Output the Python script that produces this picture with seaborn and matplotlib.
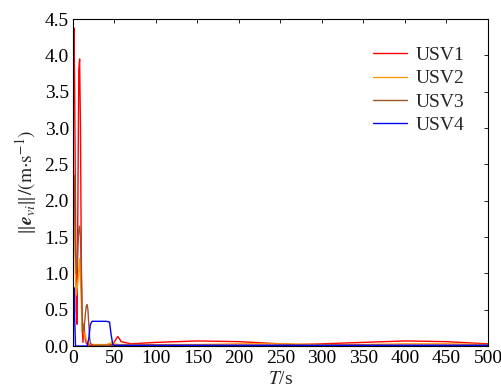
import numpy as np
import pandas as pd
import matplotlib
matplotlib.use("Agg")
import matplotlib.pyplot as plt
import seaborn as sns

# ---- data ----
t_usv1 = [0, 0.5, 1, 2, 3, 4, 5, 6, 7, 8, 9, 10, 11, 12, 13, 14, 15, 16, 18, 20, 30, 40, 48, 51, 54, 56, 58, 62, 70, 100, 150, 200, 250, 270, 300, 350, 400, 450, 500]
e_usv1 = [0.8, 3.6, 4.38, 3.6, 1.8, 0.5, 0.3, 2.2, 3.8, 3.95, 3.0, 1.2, 0.3, 0.05, 0.3, 0.18, 0.08, 0.04, 0.02, 0.01, 0.01, 0.01, 0.02, 0.08, 0.13, 0.1, 0.06, 0.05, 0.03, 0.05, 0.07, 0.06, 0.03, 0.02, 0.03, 0.05, 0.07, 0.06, 0.03]

t_usv2 = [0, 0.5, 1, 2, 3, 4, 6, 8, 10, 11, 12, 13, 14, 15, 16, 18, 20, 25, 30, 40, 46, 48, 50, 55, 60, 100, 150, 200, 250, 300, 350, 400, 450, 500]
e_usv2 = [0.8, 1.5, 2.0, 1.6, 1.0, 0.7, 0.9, 1.2, 0.6, 0.2, 0.3, 0.2, 0.12, 0.15, 0.08, 0.04, 0.03, 0.02, 0.02, 0.02, 0.04, 0.06, 0.03, 0.02, 0.02, 0.02, 0.02, 0.03, 0.03, 0.02, 0.02, 0.03, 0.03, 0.02]

t_usv3 = [0, 0.5, 1, 1.5, 2, 3, 4, 5, 6, 7, 8, 9, 10, 11, 12, 13, 14, 15, 16, 17, 18, 19, 20, 21, 22, 25, 30, 50, 100, 200, 300, 400, 500]
e_usv3 = [0.8, 1.8, 2.3, 2.35, 2.1, 1.3, 1.0, 1.1, 1.4, 1.6, 1.65, 1.5, 1.0, 0.45, 0.2, 0.22, 0.32, 0.45, 0.55, 0.57, 0.5, 0.3, 0.12, 0.04, 0.02, 0.01, 0.01, 0.01, 0.01, 0.01, 0.01, 0.01, 0.01]

t_usv4 = [0, 0.5, 1.5, 2, 3, 5, 10, 17, 19, 21, 23, 30, 40, 44, 46, 48, 50, 60, 100, 200, 300, 400, 500]
e_usv4 = [0.0, 0.8, 0.8, 0.4, 0.0, 0.0, 0.0, 0.0, 0.1, 0.3, 0.34, 0.34, 0.34, 0.33, 0.15, 0.02, 0.01, 0.01, 0.01, 0.01, 0.01, 0.01, 0.01]

labels = ["USV1", "USV2", "USV3", "USV4"]
colors = ["#ff0000", "#ff9900", "#a0522d", "#0000ff"]
x_ticks = [0, 50, 100, 150, 200, 250, 300, 350, 400, 450, 500]
y_ticks = [0.0, 0.5, 1.0, 1.5, 2.0, 2.5, 3.0, 3.5, 4.0, 4.5]

frames = []
for lab, t, e in zip(labels, [t_usv1, t_usv2, t_usv3, t_usv4], [e_usv1, e_usv2, e_usv3, e_usv4]):
    frames.append(pd.DataFrame({"t": t, "e": e, "USV": lab}))
df = pd.concat(frames, ignore_index=True)

sns.set_theme(style="white")
plt.rcParams["font.family"] = ["Liberation Serif", "DejaVu Serif"]
plt.rcParams["mathtext.fontset"] = "stix"

fig = plt.figure(figsize=(5.01, 3.92), dpi=100)
ax = fig.add_axes([0.1457, 0.1173, 0.8283, 0.8342])

sns.lineplot(data=df, x="t", y="e", hue="USV", palette=dict(zip(labels, colors)),
             estimator=None, sort=False, linewidth=1.0, ax=ax)

ax.set_xlim(0, 500)
ax.set_ylim(0, 4.5)
ax.set_xticks(x_ticks)
ax.set_yticks(y_ticks)
ax.set_xticklabels([str(v) for v in x_ticks])
ax.set_yticklabels([f"{v:.1f}" for v in y_ticks])
ax.tick_params(direction="in", top=True, right=True, length=3, width=0.6,
               labelsize=14, colors="black", pad=3)
for s in ax.spines.values():
    s.set_color("black")
    s.set_linewidth(0.8)

ax.set_xlabel(r"$T$/s", fontsize=14, labelpad=3)
ax.set_ylabel(r"$\Vert\boldsymbol{e}_{vi}\Vert/(\mathrm{m{\cdot}s^{-1}})$", fontsize=14, labelpad=4)

leg = ax.legend(loc="upper right", frameon=False, fontsize=14, handlelength=1.75,
                handletextpad=0.45, labelspacing=0.3, bbox_to_anchor=(0.986, 0.97))
for h in leg.get_lines():
    h.set_linewidth(1.0)

fig.savefig("out.png", dpi=100)
